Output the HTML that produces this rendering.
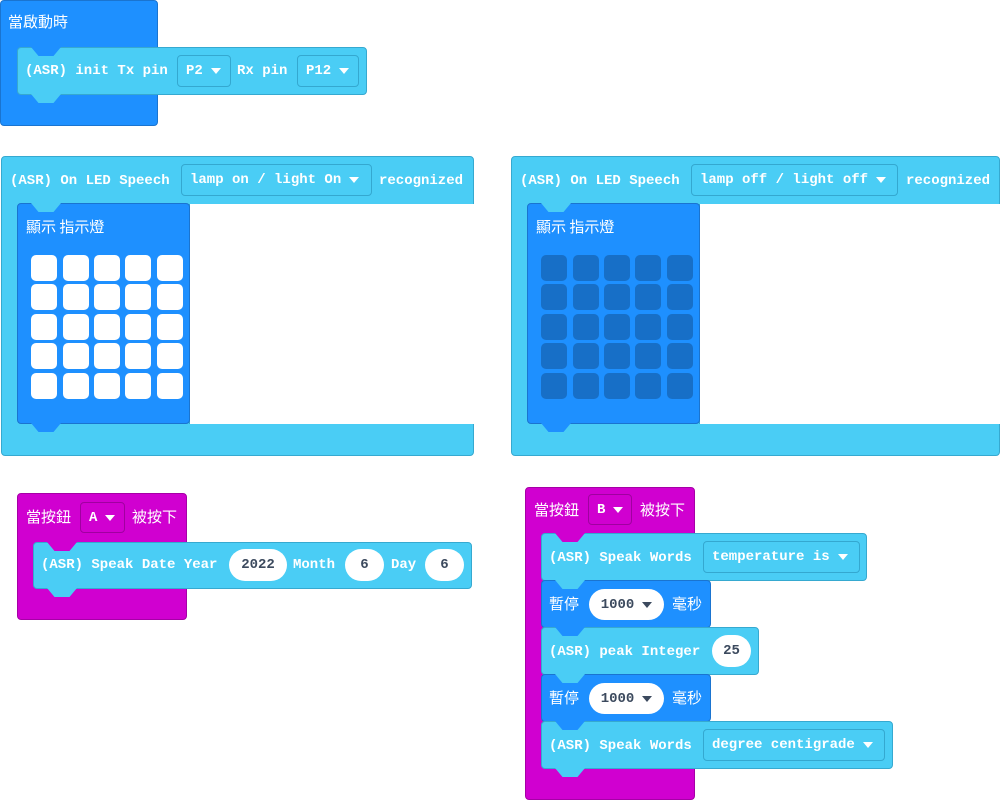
<!DOCTYPE html>
<html><head><meta charset="utf-8">
<style>
body{margin:0;width:1000px;height:800px;background:#fff;position:relative;overflow:hidden;font-family:"Liberation Mono","Noto Sans CJK TC",monospace;font-weight:bold;font-size:14px;color:#fff}
div{position:absolute;box-sizing:border-box}
.lb{background:#4acdf5;border:1px solid #36a9d0;border-radius:4px}
.db{background:#1e90ff;border:1px solid #1a74d0;border-radius:4px}
.pu{background:#d000d0;border:1px solid #a600a6;border-radius:4px}
.t{white-space:pre;line-height:20px;height:20px}
.cj{font-family:"Noto Sans CJK TC","Liberation Sans",sans-serif;font-weight:normal;font-size:15px}
.dd,.ddp,.pill{display:flex;align-items:center;white-space:pre}
.dd{border:1px solid #34a8d0;border-radius:4px;padding-left:8px}
.ddp{border:1px solid #a000a0;border-radius:4px;padding-left:8px}
.pill{background:#fff;border-radius:16px;color:#3c4a5e;justify-content:center}
.ar{display:inline-block;width:0;height:0;border-left:5px solid transparent;border-right:5px solid transparent;border-top:6px solid #fff;margin-left:8px;position:relative;top:0}
.pill .ar{border-top-color:#3c4a5e}
.tab{width:30px;height:9px;clip-path:polygon(0 0,100% 0,75% 100%,25% 100%)}
.cell{width:26px;height:26px;border-radius:5px}
.on{background:#fff}
.off{background:#176fc7}
</style></head><body>

<!-- Block 1 -->
<div class="db" style="left:0;top:0;width:158px;height:126px"></div>
<div class="t cj" style="left:8px;top:12px">當啟動時</div>
<div class="lb" style="left:17px;top:47px;width:350px;height:48px"></div>
<div class="tab" style="left:31px;top:47px;background:#1e90ff"></div>
<div class="tab" style="left:31px;top:94px;background:#4acdf5"></div>
<div class="t" style="left:25px;top:61px">(ASR) init Tx pin</div>
<div class="dd" style="left:177px;top:55px;width:54px;height:32px">P2<span class="ar"></span></div>
<div class="t" style="left:237px;top:61px">Rx pin</div>
<div class="dd" style="left:297px;top:55px;width:62px;height:32px">P12<span class="ar"></span></div>

<!-- Block 2 -->
<div class="lb" style="left:1px;top:156px;width:473px;height:300px"></div>
<div class="t" style="left:10px;top:171px">(ASR) On LED Speech</div>
<div class="dd" style="left:181px;top:164px;width:191px;height:32px">lamp on / light On<span class="ar"></span></div>
<div class="t" style="left:379px;top:171px">recognized</div>
<div style="left:189px;top:204px;width:285px;height:220px;background:#fff;border-left:1px solid #36a9d0"></div>
<div class="db" style="left:17px;top:203px;width:173px;height:221px"></div>
<div class="tab" style="left:31px;top:203px;background:#4acdf5"></div>
<div class="tab" style="left:31px;top:423px;background:#1e90ff"></div>
<div class="t cj" style="left:26px;top:217px">顯示 指示燈</div>

<!-- Block 3 -->
<div class="lb" style="left:511px;top:156px;width:489px;height:300px"></div>
<div class="t" style="left:520px;top:171px">(ASR) On LED Speech</div>
<div class="dd" style="left:691px;top:164px;width:207px;height:32px">lamp off / light off<span class="ar"></span></div>
<div class="t" style="left:906px;top:171px">recognized</div>
<div style="left:699px;top:204px;width:301px;height:220px;background:#fff;border-left:1px solid #36a9d0"></div>
<div class="db" style="left:527px;top:203px;width:173px;height:221px"></div>
<div class="tab" style="left:541px;top:203px;background:#4acdf5"></div>
<div class="tab" style="left:541px;top:423px;background:#1e90ff"></div>
<div class="t cj" style="left:536px;top:217px">顯示 指示燈</div>

<!-- LEDs -->
<div class="cell on" style="left:31px;top:255px"></div><div class="cell on" style="left:63px;top:255px"></div><div class="cell on" style="left:94px;top:255px"></div><div class="cell on" style="left:125px;top:255px"></div><div class="cell on" style="left:157px;top:255px"></div>
<div class="cell on" style="left:31px;top:284px"></div><div class="cell on" style="left:63px;top:284px"></div><div class="cell on" style="left:94px;top:284px"></div><div class="cell on" style="left:125px;top:284px"></div><div class="cell on" style="left:157px;top:284px"></div>
<div class="cell on" style="left:31px;top:314px"></div><div class="cell on" style="left:63px;top:314px"></div><div class="cell on" style="left:94px;top:314px"></div><div class="cell on" style="left:125px;top:314px"></div><div class="cell on" style="left:157px;top:314px"></div>
<div class="cell on" style="left:31px;top:343px"></div><div class="cell on" style="left:63px;top:343px"></div><div class="cell on" style="left:94px;top:343px"></div><div class="cell on" style="left:125px;top:343px"></div><div class="cell on" style="left:157px;top:343px"></div>
<div class="cell on" style="left:31px;top:373px"></div><div class="cell on" style="left:63px;top:373px"></div><div class="cell on" style="left:94px;top:373px"></div><div class="cell on" style="left:125px;top:373px"></div><div class="cell on" style="left:157px;top:373px"></div>

<div class="cell off" style="left:541px;top:255px"></div><div class="cell off" style="left:573px;top:255px"></div><div class="cell off" style="left:604px;top:255px"></div><div class="cell off" style="left:635px;top:255px"></div><div class="cell off" style="left:667px;top:255px"></div>
<div class="cell off" style="left:541px;top:284px"></div><div class="cell off" style="left:573px;top:284px"></div><div class="cell off" style="left:604px;top:284px"></div><div class="cell off" style="left:635px;top:284px"></div><div class="cell off" style="left:667px;top:284px"></div>
<div class="cell off" style="left:541px;top:314px"></div><div class="cell off" style="left:573px;top:314px"></div><div class="cell off" style="left:604px;top:314px"></div><div class="cell off" style="left:635px;top:314px"></div><div class="cell off" style="left:667px;top:314px"></div>
<div class="cell off" style="left:541px;top:343px"></div><div class="cell off" style="left:573px;top:343px"></div><div class="cell off" style="left:604px;top:343px"></div><div class="cell off" style="left:635px;top:343px"></div><div class="cell off" style="left:667px;top:343px"></div>
<div class="cell off" style="left:541px;top:373px"></div><div class="cell off" style="left:573px;top:373px"></div><div class="cell off" style="left:604px;top:373px"></div><div class="cell off" style="left:635px;top:373px"></div><div class="cell off" style="left:667px;top:373px"></div>

<!-- Block 4 -->
<div class="pu" style="left:17px;top:493px;width:170px;height:127px"></div>
<div class="t cj" style="left:26px;top:507px">當按鈕</div>
<div class="ddp" style="left:80px;top:502px;width:45px;height:31px">A<span class="ar"></span></div>
<div class="t cj" style="left:132px;top:507px">被按下</div>
<div class="lb" style="left:33px;top:542px;width:439px;height:47px"></div>
<div class="tab" style="left:47px;top:542px;background:#d000d0"></div>
<div class="tab" style="left:47px;top:588px;background:#4acdf5"></div>
<div class="t" style="left:41px;top:555px">(ASR) Speak Date Year</div>
<div class="pill" style="left:229px;top:549px;width:58px;height:32px">2022</div>
<div class="t" style="left:293px;top:555px">Month</div>
<div class="pill" style="left:345px;top:549px;width:39px;height:32px">6</div>
<div class="t" style="left:391px;top:555px">Day</div>
<div class="pill" style="left:425px;top:549px;width:39px;height:32px">6</div>

<!-- Block 5 -->
<div class="pu" style="left:525px;top:487px;width:170px;height:313px"></div>
<div class="t cj" style="left:534px;top:500px">當按鈕</div>
<div class="ddp" style="left:588px;top:494px;width:44px;height:31px">B<span class="ar"></span></div>
<div class="t cj" style="left:640px;top:500px">被按下</div>

<div class="lb" style="left:541px;top:533px;width:326px;height:48px"></div>
<div class="tab" style="left:555px;top:533px;background:#d000d0"></div>
<div class="t" style="left:549px;top:548px">(ASR) Speak Words</div>
<div class="dd" style="left:703px;top:541px;width:157px;height:32px">temperature is<span class="ar"></span></div>

<div class="db" style="left:541px;top:580px;width:170px;height:48px"></div>
<div class="tab" style="left:555px;top:580px;background:#4acdf5"></div>
<div class="t cj" style="left:549px;top:594px">暫停</div>
<div class="pill" style="left:589px;top:589px;width:75px;height:31px">1000<span class="ar"></span></div>
<div class="t cj" style="left:672px;top:594px">毫秒</div>

<div class="lb" style="left:541px;top:627px;width:218px;height:48px"></div>
<div class="tab" style="left:555px;top:627px;background:#1e90ff"></div>
<div class="t" style="left:549px;top:642px">(ASR) peak Integer</div>
<div class="pill" style="left:712px;top:635px;width:39px;height:32px">25</div>

<div class="db" style="left:541px;top:674px;width:170px;height:48px"></div>
<div class="tab" style="left:555px;top:674px;background:#4acdf5"></div>
<div class="t cj" style="left:549px;top:688px">暫停</div>
<div class="pill" style="left:589px;top:683px;width:75px;height:31px">1000<span class="ar"></span></div>
<div class="t cj" style="left:672px;top:688px">毫秒</div>

<div class="lb" style="left:541px;top:721px;width:352px;height:48px"></div>
<div class="tab" style="left:555px;top:721px;background:#1e90ff"></div>
<div class="tab" style="left:555px;top:768px;background:#4acdf5"></div>
<div class="t" style="left:549px;top:736px">(ASR) Speak Words</div>
<div class="dd" style="left:703px;top:729px;width:182px;height:32px">degree centigrade<span class="ar"></span></div>

</body></html>
